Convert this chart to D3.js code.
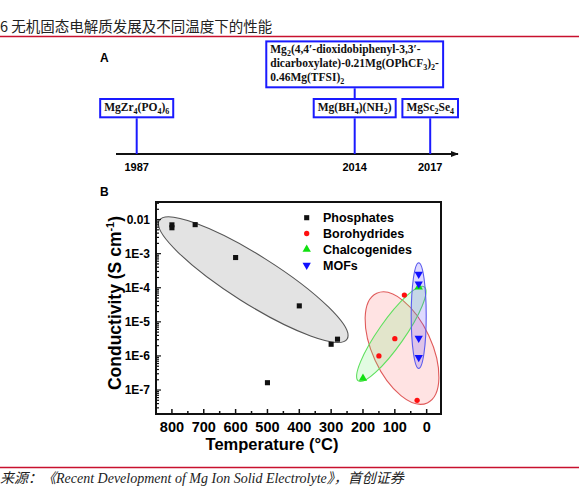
<!DOCTYPE html>
<html>
<head>
<meta charset="utf-8">
<title>Mg solid electrolytes</title>
<script src="https://d3js.org/d3.v7.min.js"></script>
<style>
    body { margin: 0; background: #fff; }
    svg { display: block; }
    .sans { font-family: "Liberation Sans", Arial, sans-serif; }
    .serif { font-family: "Liberation Serif", "Times New Roman", serif; }
</style>
</head>
<body>
<svg id="chart" width="579" height="493"></svg>
<script>
// ---- data ----
// panel A timeline
const years = [1987, 2014, 2014, 2017];
const boxRows = [0, 0, 1, 0]; // 0 = lower row, 1 = upper row
const boxLabels = [
    [[["MgZr", ""], ["4", "sub"], ["(PO", ""], ["4", "sub"], [")", ""], ["6", "sub"]]],
    [[["Mg(BH", ""], ["4", "sub"], [")(NH", ""], ["2", "sub"], [")", ""]]],
    [[["Mg", ""], ["2", "sub"], ["(4,4\u2032-dioxidobiphenyl-3,3\u2032-", ""]],
     [["dicarboxylate)-0.21Mg(OPhCF", ""], ["3", "sub"], [")", ""], ["2", "sub"], ["-", ""]],
     [["0.46Mg(TFSI)", ""], ["2", "sub"]]],
    [[["MgSc", ""], ["2", "sub"], ["Se", ""], ["4", "sub"]]]
];

// panel B: temperature (°C) and conductivity (S/cm)
const phosphatesT = [800, 800, 727, 600, 400, 300, 280, 500];
const phosphatesS = [7.0e-3, 5.75e-3, 7.1e-3, 7.7e-4, 2.94e-5, 2.2e-6, 3.1e-6, 1.64e-7];
const borohydridesT = [70, 100, 150, 30];
const borohydridesS = [6.1e-5, 3.2e-6, 1.0e-6, 5.0e-8];
const chalcogenidesT = [200, 25];
const chalcogenidesS = [2.2e-7, 1.05e-4];
const mofsT = [25, 25, 25, 25];
const mofsS = [2.5e-4, 1.3e-4, 3.3e-6, 9.0e-7];

const seriesNames = ["Phosphates", "Borohydrides", "Chalcogenides", "MOFs"];

// group ellipses: centre (T, S), end of long axis (T, S), short/long ratio
const ellipseCentreT = [544.7, 77.4, 111, 25];
const ellipseCentreS = [1.73e-4, 1.7e-6, 4.43e-6, 1.52e-5];
const ellipseTipT = [839.6, -2.1, 7.4, 25];
const ellipseTipS = [9.5e-3, 4.2e-8, 1.06e-4, 5.4e-4];
const ellipseRatio = [0.216, 0.49, 0.226, 0.142];

const xTicks = [800, 700, 600, 500, 400, 300, 200, 100, 0];
const yTicks = [1e-2, 1e-3, 1e-4, 1e-5, 1e-6, 1e-7];
const yTickLabels = ["0.01", "1E-3", "1E-4", "1E-5", "1E-6", "1E-7"];

const title = "6 无机固态电解质发展及不同温度下的性能";
const source = "来源：《Recent Development of Mg Ion Solid Electrolyte》，首创证券";

// ---- drawing ----
const svg = d3.select("#chart");

// header
svg.append("text")
    .attr("x", 0).attr("y", 32)
    .style("font-family", "'Noto Sans CJK SC', sans-serif")
    .style("font-size", "14.5px")
    .attr("fill", "#222")
    .text(title);
svg.append("line")
    .attr("x1", 0).attr("x2", 579).attr("y1", 36.5).attr("y2", 36.5)
    .attr("stroke", "#c8102e").attr("stroke-width", 1.5);

// ===== panel A =====
svg.append("text").attr("class", "sans")
    .attr("x", 100).attr("y", 62)
    .style("font-size", "12px").style("font-weight", "bold")
    .text("A");

const yearX = d3.scaleLinear()
    .domain([1980, 1987, 2014, 2017, 2020])
    .range([116, 136.7, 354.7, 430.2, 458]);
const lineY = 154;

// arrow
svg.append("defs").append("marker")
    .attr("id", "arrow")
    .attr("viewBox", "0 0 10 10").attr("refX", 9).attr("refY", 5)
    .attr("markerWidth", 4).attr("markerHeight", 4)
    .attr("orient", "auto")
    .append("path").attr("d", "M0,1L10,5L0,9z").attr("fill", "#111");

svg.append("line")
    .attr("x1", yearX(1980)).attr("x2", yearX(2020))
    .attr("y1", lineY).attr("y2", lineY)
    .attr("stroke", "#111").attr("stroke-width", 2)
    .attr("marker-end", "url(#arrow)");

// year labels
svg.selectAll(".yr")
    .data([1987, 2014, 2017])
    .enter().append("text")
    .attr("class", "sans yr")
    .attr("x", d => yearX(d)).attr("y", 171)
    .attr("text-anchor", "middle")
    .style("font-size", "11px").style("font-weight", "bold")
    .text(d => d);

// boxes
const rowBottom = [117.3, 87.3];
const lineH = 13.8;
const blue = "#1a1aff";

boxLabels.forEach((lines, i) => {
    const g = svg.append("g");
    const cx = yearX(years[i]);
    const bottom = rowBottom[boxRows[i]];
    const h = lines.length * lineH + 4.5;
    const top = bottom - h;

    const txt = g.append("g");
    lines.forEach((segs, k) => {
        const t = txt.append("text").attr("class", "serif")
            .attr("y", top + 11.5 + k * lineH)
            .style("font-size", "11.5px").style("font-weight", "bold")
            .attr("fill", "#111");
        let prevSub = false;
        segs.forEach(s => {
            const sp = t.append("tspan").text(s[0]);
            if (s[1] === "sub") { sp.style("font-size", "8px").attr("dy", prevSub ? 0 : 3); prevSub = true; }
            else { if (prevSub) sp.attr("dy", -3); prevSub = false; }
        });
    });
    const w = txt.node().getBBox().width + 8;
    txt.selectAll("text").attr("x", cx - w / 2 + 4);

    g.insert("rect", ":first-child")
        .attr("x", cx - w / 2).attr("y", top)
        .attr("width", w).attr("height", h)
        .attr("fill", "#fff").attr("stroke", blue).attr("stroke-width", 2);

    // connector down to the timeline (or to the box below)
    const toY = boxRows[i] === 0 ? lineY : rowBottom[0] - lineH - 4.5;
    svg.append("line")
        .attr("x1", cx).attr("x2", cx)
        .attr("y1", bottom + 1).attr("y2", toY)
        .attr("stroke", blue).attr("stroke-width", 2);
});

// ===== panel B =====
svg.append("text").attr("class", "sans")
    .attr("x", 100).attr("y", 196)
    .style("font-size", "12px").style("font-weight", "bold")
    .text("B");

const plot = { left: 156, right: 441, top: 202, bottom: 414 };

const x = d3.scaleLinear().domain([850, -45]).range([plot.left, plot.right]);
const y = d3.scaleLog().domain([Math.pow(10, -7.703), Math.pow(10, -1.485)]).range([plot.bottom, plot.top]);

// ellipses
const ellipseFill = ["#e3e3e3", "rgba(255,90,90,0.17)", "rgba(110,240,110,0.2)", "rgba(90,70,255,0.2)"];
const ellipseStroke = ["#555", "#e05a5a", "#5ee05e", "#5a5aee"];
const eg = svg.append("g");
ellipseCentreT.forEach((t, i) => {
    const cx = x(t), cy = y(ellipseCentreS[i]);
    const tx = x(ellipseTipT[i]), ty = y(ellipseTipS[i]);
    const a = Math.hypot(tx - cx, ty - cy);
    const ang = Math.atan2(ty - cy, tx - cx) * 180 / Math.PI;
    eg.append("ellipse")
        .attr("transform", "translate(" + cx + "," + cy + ") rotate(" + ang + ")")
        .attr("rx", a).attr("ry", a * ellipseRatio[i])
        .attr("fill", ellipseFill[i])
        .attr("stroke", ellipseStroke[i]).attr("stroke-width", 1.1);
});

// points
const colors = ["#111", "#ff1010", "#10e010", "#1010ff"];
const shapes = [d3.symbolSquare, d3.symbolCircle, d3.symbolTriangle, d3.symbolTriangle];
const sizes = [26, 22, 30, 30];
const rot = [0, 0, 0, 180];
const allT = [phosphatesT, borohydridesT, chalcogenidesT, mofsT];
const allS = [phosphatesS, borohydridesS, chalcogenidesS, mofsS];

allT.forEach((ts, k) => {
    svg.append("g").selectAll("path")
        .data(ts.map((t, i) => [t, allS[k][i]]))
        .enter().append("path")
        .attr("d", d3.symbol().type(shapes[k]).size(sizes[k]))
        .attr("transform", d => "translate(" + x(d[0]) + "," + y(d[1]) + ") rotate(" + rot[k] + ")")
        .attr("fill", colors[k]);
});

// frame
svg.append("rect")
    .attr("x", plot.left).attr("y", plot.top)
    .attr("width", plot.right - plot.left).attr("height", plot.bottom - plot.top)
    .attr("fill", "none").attr("stroke", "#111").attr("stroke-width", 2);

// x axis: ticks pointing inward
const xMinor = d3.range(750, -1, -100);
svg.append("g").selectAll("line")
    .data(xTicks.map(d => [d, 5]).concat(xMinor.map(d => [d, 3])))
    .enter().append("line")
    .attr("x1", d => x(d[0])).attr("x2", d => x(d[0]))
    .attr("y1", plot.bottom).attr("y2", d => plot.bottom - d[1])
    .attr("stroke", "#111").attr("stroke-width", 1.5);
svg.append("g").selectAll("text")
    .data(xTicks)
    .enter().append("text").attr("class", "sans")
    .attr("x", d => x(d)).attr("y", 432)
    .attr("text-anchor", "middle")
    .style("font-size", "14.5px").style("font-weight", "bold")
    .text(d => d);
svg.append("text").attr("class", "sans")
    .attr("x", 272).attr("y", 450)
    .attr("text-anchor", "middle")
    .style("font-size", "16.5px").style("font-weight", "bold")
    .text("Temperature (\u00b0C)");

// y axis: log ticks
const yMinor = y.ticks().filter(v => yTicks.every(t => Math.abs(Math.log10(v) - Math.log10(t)) > 1e-6));
svg.append("g").selectAll("line")
    .data(yTicks.map(d => [d, 5]).concat(yMinor.map(d => [d, 3])))
    .enter().append("line")
    .attr("x1", plot.left).attr("x2", d => plot.left + d[1])
    .attr("y1", d => y(d[0])).attr("y2", d => y(d[0]))
    .attr("stroke", "#111").attr("stroke-width", 1.2);
svg.append("g").selectAll("text")
    .data(yTicks)
    .enter().append("text").attr("class", "sans")
    .attr("x", 150).attr("y", d => y(d) + 4.3)
    .attr("text-anchor", "end")
    .style("font-size", "12px").style("font-weight", "bold")
    .text((d, i) => yTickLabels[i]);

const yl = svg.append("text").attr("class", "sans")
    .attr("transform", "translate(121,303) rotate(-90)")
    .attr("text-anchor", "middle")
    .style("font-size", "17.5px").style("font-weight", "bold");
yl.append("tspan").text("Conductivity (S cm");
yl.append("tspan").text("-1").style("font-size", "11px").attr("dy", -7);
yl.append("tspan").text(")").attr("dy", 7);

// legend
const leg = svg.append("g");
seriesNames.forEach((name, k) => {
    const ly = 217.7 + k * 15.8;
    leg.append("path")
        .attr("d", d3.symbol().type(shapes[k]).size(sizes[k]))
        .attr("transform", "translate(306.7," + ly + ") rotate(" + rot[k] + ")")
        .attr("fill", colors[k]);
    leg.append("text").attr("class", "sans")
        .attr("x", 323).attr("y", ly + 4.5)
        .style("font-size", "12.5px").style("font-weight", "bold")
        .text(name);
});

// footer
svg.append("line")
    .attr("x1", 0).attr("x2", 579).attr("y1", 467.5).attr("y2", 467.5)
    .attr("stroke", "#c8102e").attr("stroke-width", 1.5);
svg.append("text")
    .attr("x", 0).attr("y", 483)
    .style("font-family", "'Liberation Serif', 'Noto Sans CJK SC', serif")
    .style("font-style", "italic")
    .style("font-size", "14px")
    .attr("fill", "#222")
    .text(source);
</script>
</body>
</html>
